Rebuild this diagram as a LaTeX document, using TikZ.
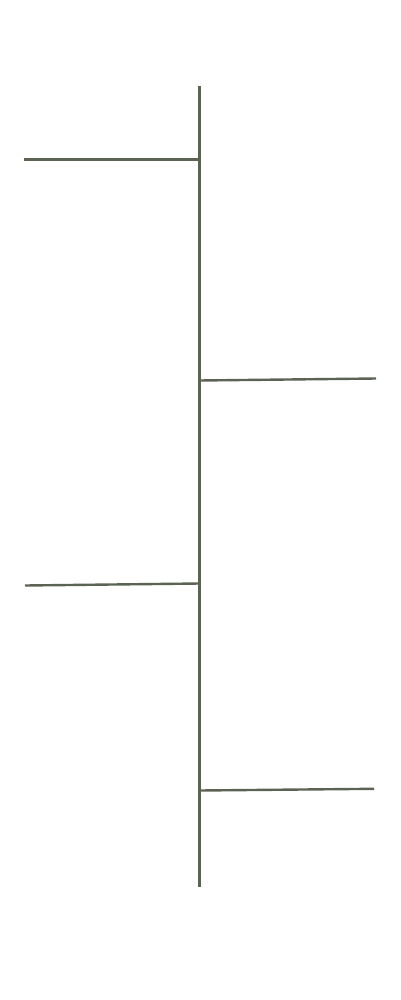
\documentclass[tikz,border=0pt]{standalone}
\usepackage{xcolor}
\usepackage{tikz}
\definecolor{stemgreen}{HTML}{5B6453}

\begin{document}
\begin{tikzpicture}[x=1pt, y=-1pt,
  stem/.style={line width=2.6pt, stemgreen},
  branch/.style={line width=2.4pt, stemgreen}]
\useasboundingbox (0,0) rectangle (400,1000);
% main stem
\coordinate (top) at (199.5,86.5);
\coordinate (bot) at (199.5,886.5);
\draw[stem] (top)--(bot);
% branches
\coordinate (j1) at (199.5,159.5); \coordinate (e1) at (24,159.5);
\coordinate (j2) at (199.5,380.5); \coordinate (e2) at (376,378.5);
\coordinate (j3) at (199.5,583.5); \coordinate (e3) at (25,585.5);
\coordinate (j4) at (199.5,790.5); \coordinate (e4) at (374,788.8);
\draw[branch] (j1)--(e1); \draw[branch] (j2)--(e2);
\draw[branch] (j3)--(e3); \draw[branch] (j4)--(e4);
\end{tikzpicture}
\end{document}
